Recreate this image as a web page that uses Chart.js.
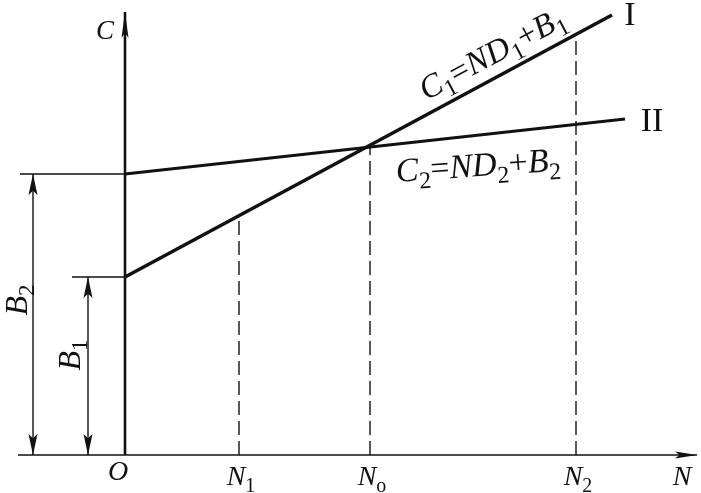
<!DOCTYPE html>
<html>
<head>
<meta charset="utf-8">
<script src="https://cdn.jsdelivr.net/npm/chart.js@4.4.0/dist/chart.umd.min.js"></script>
<style>
body { margin: 0; background: #fff; font-family: "Liberation Serif"; }
#wrap { width: 701px; height: 493px; position: relative; }
.pre { position: absolute; left: -9999px; }
</style>
</head>
<body>
<span class="pre" style="font-style:italic">CNBO</span><span class="pre">12I</span>
<div id="wrap"><canvas id="myChart"></canvas></div>
<script>
// values (arbitrary units, origin at O)
var B1 = 1.78;
var B2 = 2.81;
var lineI = [{x: 0, y: 1.78}, {x: 4.87, y: 4.40}];
var lineII = [{x: 0, y: 2.81}, {x: 5.00, y: 3.36}];
var nValues = [1.14, 2.45, 4.51];
var nTops = [2.39, 3.08, 4.20];
var nSubs = ["1", "o", "2"];
var xAxis = [-1.07, 5.72];
var yAxis = [0, 4.43];
var dimX = [-0.92, -0.37];      // dimension lines for B2, B1
var extStart = [-1.05, -0.53];  // extension lines for B2, B1

var ink = '#111';
var serif = '"Liberation Serif"';

var dashed = [];
for (var i = 0; i < nValues.length; i++) {
    dashed.push({
        data: [{x: nValues[i], y: 0}, {x: nValues[i], y: nTops[i]}],
        borderColor: ink, borderWidth: 1.4, borderDash: [14, 6]
    });
}

var datasets = [
    {data: lineI, borderColor: ink, borderWidth: 3.5},
    {data: lineII, borderColor: ink, borderWidth: 3},
    {data: [{x: xAxis[0], y: 0}, {x: xAxis[1], y: 0}], borderColor: ink, borderWidth: 1.6},
    {data: [{x: 0, y: yAxis[0]}, {x: 0, y: yAxis[1]}], borderColor: ink, borderWidth: 2.6},
    {data: [{x: extStart[0], y: B2}, {x: 0, y: B2}], borderColor: ink, borderWidth: 1.4},
    {data: [{x: extStart[1], y: B1}, {x: 0, y: B1}], borderColor: ink, borderWidth: 1.4},
    {data: [{x: dimX[0], y: 0}, {x: dimX[0], y: B2}], borderColor: ink, borderWidth: 1.4},
    {data: [{x: dimX[1], y: 0}, {x: dimX[1], y: B1}], borderColor: ink, borderWidth: 1.4}
].concat(dashed);

datasets.forEach(function(d) {
    d.showLine = true;
    d.pointRadius = 0;
    d.fill = false;
    d.tension = 0;
});

function arrow(ctx, x, y, dx, dy, len, half) {
    // tip at (x,y), pointing along (dx,dy)
    var px = -dy, py = dx;
    ctx.beginPath();
    ctx.moveTo(x, y);
    ctx.lineTo(x - dx * len + px * half, y - dy * len + py * half);
    ctx.lineTo(x - dx * len * 0.8, y - dy * len * 0.8);
    ctx.lineTo(x - dx * len - px * half, y - dy * len - py * half);
    ctx.closePath();
    ctx.fill();
}

function drawRuns(ctx, runs, x, y, size, angle) {
    // runs: [text, kind]  i = italic, r = roman, s = subscript
    var fonts = {
        i: 'italic ' + size + 'px ' + serif,
        r: size + 'px ' + serif,
        s: Math.round(size * 0.72) + 'px ' + serif
    };
    ctx.save();
    ctx.translate(x, y);
    ctx.rotate(angle || 0);
    var w = 0;
    runs.forEach(function(r) { ctx.font = fonts[r[1]]; w += ctx.measureText(r[0]).width; });
    var cx = -w / 2;
    ctx.textBaseline = 'alphabetic';
    ctx.fillStyle = ink;
    runs.forEach(function(r) {
        ctx.font = fonts[r[1]];
        ctx.fillText(r[0], cx, size * 0.33 + (r[1] === 's' ? size * 0.24 : 0));
        cx += ctx.measureText(r[0]).width;
    });
    ctx.restore();
}

var marks = {
    id: 'marks',
    afterDatasetsDraw: function(chart) {
        var ctx = chart.ctx;
        var xs = chart.scales.x, ys = chart.scales.y;
        var ox = xs.getPixelForValue(0), oy = ys.getPixelForValue(0);
        ctx.save();
        ctx.fillStyle = ink;
        // axis arrows
        arrow(ctx, ox, ys.getPixelForValue(yAxis[1]), 0, -1, 26, 3.5);
        arrow(ctx, xs.getPixelForValue(xAxis[1]), oy, 1, 0, 22, 3.5);
        // dimension arrows
        var tops = [B2, B1];
        for (var i = 0; i < 2; i++) {
            var dx = xs.getPixelForValue(dimX[i]);
            arrow(ctx, dx, ys.getPixelForValue(tops[i]), 0, -1, 21, 4.5);
            arrow(ctx, dx, oy, 0, 1, 21, 4.5);
        }
        ctx.restore();

        // labels
        drawRuns(ctx, [["C", "i"]], ox - 20, 30, 27);
        drawRuns(ctx, [["O", "i"]], ox - 7, 471, 28);
        for (var k = 0; k < nValues.length; k++) {
            drawRuns(ctx, [["N", "i"], [nSubs[k], "s"]], xs.getPixelForValue(nValues[k]) + 2, 476, 28);
        }
        drawRuns(ctx, [["N", "i"]], xs.getPixelForValue(xAxis[1]) - 15, 476, 28);
        drawRuns(ctx, [["I", "r"]], 630, 14, 34);
        drawRuns(ctx, [["II", "r"]], 652, 120, 34);
        drawRuns(ctx, [["C", "i"], ["1", "s"], ["=", "r"], ["ND", "i"], ["1", "s"], ["+", "r"], ["B", "i"], ["1", "s"]],
                 492, 53, 33, -Math.atan2(262, 487));
        drawRuns(ctx, [["C", "i"], ["2", "s"], ["=", "r"], ["ND", "i"], ["2", "s"], ["+", "r"], ["B", "i"], ["2", "s"]],
                 478, 165, 34, -0.07);
        drawRuns(ctx, [["B", "i"], ["2", "s"]], 16, 300, 32, -Math.PI / 2);
        drawRuns(ctx, [["B", "i"], ["1", "s"]], 69, 355, 32, -Math.PI / 2);
    }
};

function makeChart() {
    var ctx = document.getElementById("myChart").getContext("2d");
    new Chart(ctx, {
        type: 'scatter',
        data: {datasets: datasets},
        options: {
            responsive: true,
            maintainAspectRatio: false,
            animation: false,
            events: [],
            layout: {padding: 0, autoPadding: false},
            scales: {
                x: {type: 'linear', min: -1.25, max: 5.76, display: false},
                y: {type: 'linear', min: -0.38, max: 4.55, display: false}
            },
            plugins: {legend: {display: false}, tooltip: {enabled: false}}
        },
        plugins: [marks]
    });
}

Promise.all([
    document.fonts.load('italic 28px "Liberation Serif"'),
    document.fonts.load('28px "Liberation Serif"')
]).then(makeChart, makeChart);
</script>
</body>
</html>
